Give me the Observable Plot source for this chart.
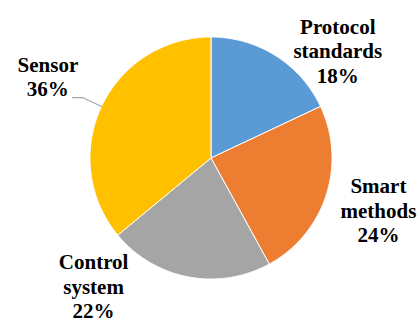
<!DOCTYPE html>
<html>
<head>
<meta charset="utf-8">
<script src="https://cdn.jsdelivr.net/npm/d3@7"></script>
<script src="https://cdn.jsdelivr.net/npm/@observablehq/plot@0.6"></script>
<style>
  html, body { margin: 0; padding: 0; background: #fff; }
  #chart { width: 420px; height: 318px; overflow: hidden; }
</style>
</head>
<body>
<div id="chart"></div>
<script>
// ---- data ----
const categories = ["Protocol standards", "Smart methods", "Control system", "Sensor"];
const shares = [18, 24, 22, 36];
const colors = ["#5B9BD5", "#ED7D31", "#A5A5A5", "#FFC000"];
// label placement: [angle in degrees clockwise from top, distance in pie radii]
const labelPolar = [[50.4, 1.36], [108, 1.455], [222, 1.45], [296, 1.50]];
const leaderFor = "Sensor";

// ---- layout ----
const W = 420, H = 318;
const R = 121;          // pie radius in px
const cx = 210.5, cy = 157.5;

const data = categories.map((c, i) => ({cat: c, share: shares[i]}));
const arcs = d3.pie().sort(null).value(d => d.share)(data);

// slice outlines as closed polygons
const pts = [];
arcs.forEach(a => {
  const n = Math.max(2, Math.ceil((a.endAngle - a.startAngle) / (Math.PI / 360)));
  pts.push({cat: a.data.cat, x: 0, y: 0});
  for (let k = 0; k <= n; k++) {
    const t = a.startAngle + (a.endAngle - a.startAngle) * k / n;
    pts.push({cat: a.data.cat, x: Math.sin(t), y: Math.cos(t)});
  }
  pts.push({cat: a.data.cat, x: 0, y: 0});
});

const labels = data.map((d, i) => {
  const t = labelPolar[i][0] * Math.PI / 180, r = labelPolar[i][1];
  return {
    text: d.cat.split(" ").join("\n") + "\n" + d.share + "%",
    x: Math.sin(t) * r,
    y: Math.cos(t) * r
  };
});

// leader line for the Sensor label
const la = arcs.find(a => a.data.cat === leaderFor);
const mid = (la.startAngle + la.endAngle) / 2;
const leader = [
  {x: Math.sin(mid) * 1.0, y: Math.cos(mid) * 1.0},
  {x: Math.sin(mid) * 1.17, y: Math.cos(mid) * 1.17},
  {x: -138.5 / R, y: Math.cos(mid) * 1.17}
];

const chart = Plot.plot({
  width: W,
  height: H,
  margin: 0,
  x: {domain: [-cx / R, (W - cx) / R], axis: null},
  y: {domain: [-(H - cy) / R, cy / R], axis: null},
  color: {domain: categories, range: colors},
  style: {background: "#fff"},
  marks: [
    Plot.line(pts, {x: "x", y: "y", z: "cat", fill: "cat", stroke: "#fff", strokeWidth: 1, curve: "linear"}),
    Plot.line(leader, {x: "x", y: "y", stroke: "#A6A6A6", strokeWidth: 1.2}),
    Plot.text(labels, {
      x: "x", y: "y", text: "text", dy: -2.5,
      fontFamily: "Liberation Serif", fontWeight: "bold", fontSize: 21,
      lineHeight: 1.17, textAnchor: "middle", lineAnchor: "middle", fill: "#000"
    })
  ]
});
document.getElementById("chart").appendChild(chart);
</script>
</body>
</html>
